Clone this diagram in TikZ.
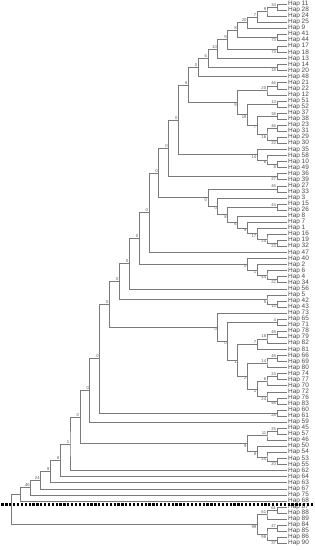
\documentclass[tikz,border=0pt]{standalone}
\usepackage{fontspec}
\setmainfont{Liberation Sans}
\usetikzlibrary{calc}

%% one clade: name, height, upper child, lower child, bootstrap, label style
\newcommand\clade[6]{%
  \coordinate (cx) at ({286.7-9.85*#2},0);
  \coordinate (cm) at ($(#3)!0.5!(#4)$);
  \coordinate (#1) at (cx |- cm);
  \draw[br] (#3) -| (#1) |- (#4);
  \node[#6] (#1l) at (#1) {#5};
}

\begin{document}
\begin{tikzpicture}[
  x=0.03cm, y=-0.03cm,
  br/.style={draw=black!52, line width=0.5pt},
  hap/.style={anchor=west, inner sep=0pt, xshift=1pt,
              font=\fontsize{5.5}{6}\selectfont, text=black!72},
  bsa/.style={anchor=south east, inner sep=0.5pt,
              font=\fontsize{3.6}{4}\selectfont, text=black!65},
  bsb/.style={bsa, anchor=north east},
  sepline/.style={line width=1.9pt, dash pattern=on 1.9pt off 1.4pt}
]
\useasboundingbox (0,0) rectangle (315,550);

%% Leaves
\foreach \h [count=\i] in {11,28,24,25,9,41,44,17,18,13,14,20,48,21,22,12,51,52,37,38,
  23,31,29,30,35,58,10,49,36,39,27,33,3,15,26,8,7,1,16,19,32,47,40,2,6,4,34,56,5,42,
  43,73,65,71,78,79,82,81,66,69,80,74,77,70,72,76,83,60,61,59,45,57,46,50,54,53,55,62,
  64,63,67,75,68,87,88,89,84,85,86,90}{
  \coordinate (h\h) at (286.7,{4+(\i-1)*6.06});
  \node[hap] (lab\h) at (h\h) {Hap \h};
}

%% Top clade
\clade{A}{1}{h11}{h28}{34}{bsa}
\clade{B}{2}{A}{h24}{8}{bsa}
\clade{C}{3}{B}{h25}{7}{bsa}
\clade{D}{4}{C}{h9}{20}{bsa}
\clade{E}{1}{h41}{h44}{73}{bsb}
\clade{F}{5}{D}{E}{8}{bsa}
\clade{G}{1}{h17}{h18}{73}{bsb}
\clade{H}{6}{F}{G}{9}{bsa}
\clade{I}{7}{H}{h13}{10}{bsa}
\clade{J}{1}{h14}{h20}{18}{bsb}
\clade{K}{8}{I}{J}{6}{bsa}
\clade{L}{9}{K}{h48}{0}{bsa}
\clade{N1a}{1}{h21}{h22}{46}{bsa}
\clade{N1}{2}{N1a}{h12}{20}{bsa}
\clade{N2a}{1}{h51}{h52}{13}{bsa}
\clade{N3a}{1}{h37}{h38}{38}{bsa}
\clade{N3b1}{1}{h23}{h31}{46}{bsa}
\clade{N3b2}{1}{h29}{h30}{22}{bsb}
\clade{N3b}{2}{N3b1}{N3b2}{16}{bsb}
\clade{N3}{3}{N3a}{N3b}{7}{bsb}
\clade{N2}{4}{N2a}{N3}{18}{bsb}
\clade{N}{5}{N1}{N2}{9}{bsb}
\clade{M}{10}{L}{N}{8}{bsa}
\clade{R}{1}{h10}{h49}{8}{bsb}
\clade{Q}{2}{h58}{R}{6}{bsb}
\clade{P}{3}{h35}{Q}{14}{bsb}
\clade{O}{11}{M}{P}{0}{bsa}
\clade{T}{1}{h36}{h39}{27}{bsb}
\clade{S}{12}{O}{T}{0}{bsa}
\clade{V1}{1}{h27}{h33}{46}{bsa}
\clade{W7}{1}{h19}{h32}{23}{bsb}
\clade{W6}{2}{h16}{W7}{25}{bsb}
\clade{W5}{3}{h1}{W6}{17}{bsb}
\clade{W4}{4}{h7}{W5}{9}{bsb}
\clade{W3}{5}{h8}{W4}{6}{bsb}
\clade{W2a}{1}{h15}{h26}{44}{bsa}
\clade{W2}{6}{W2a}{W3}{8}{bsb}
\clade{W}{7}{h3}{W2}{0}{bsb}
\clade{V}{8}{V1}{W}{0}{bsb}
\clade{U}{13}{S}{V}{0}{bsa}
\clade{X}{14}{U}{h47}{0}{bsa}
\clade{Z3}{1}{h4}{h34}{22}{bsb}
\clade{Z2}{2}{h6}{Z3}{44}{bsb}
\clade{Z1}{3}{h2}{Z2}{1}{bsb}
\clade{Z}{4}{h40}{Z1}{0}{bsb}
\clade{Y}{15}{X}{Z}{0}{bsa}
\clade{AB}{16}{Y}{h56}{0}{bsa}
\clade{AA1}{1}{h42}{h43}{14}{bsb}
\clade{AA}{2}{h5}{AA1}{5}{bsb}
\clade{AC}{17}{AB}{AA}{0}{bsa}

%% Middle clade
\clade{B65}{1}{h65}{h71}{4}{bsa}
\clade{B78}{1}{h78}{h79}{46}{bsa}
\clade{B78b}{2}{B78}{h82}{18}{bsa}
\clade{BB3}{3}{B78b}{h81}{7}{bsa}
\clade{B66}{1}{h66}{h69}{46}{bsa}
\clade{B66b}{2}{B66}{h80}{14}{bsa}
\clade{B74}{1}{h74}{h77}{24}{bsa}
\clade{B74b}{2}{B74}{h70}{6}{bsa}
\clade{B76}{1}{h76}{h83}{46}{bsb}
\clade{B72}{2}{h72}{B76}{24}{bsb}
\clade{B70}{3}{B74b}{B72}{1}{bsb}
\clade{BB4}{4}{B66b}{B70}{2}{bsb}
\clade{BB2}{5}{BB3}{BB4}{1}{bsb}
\clade{BB1}{6}{B65}{BB2}{0}{bsb}
\clade{BB}{7}{h73}{BB1}{0}{bsb}
\clade{AD}{18}{AC}{BB}{0}{bsa}
\clade{E60}{1}{h60}{h61}{28}{bsb}
\clade{AE}{19}{AD}{E60}{0}{bsa}
\clade{AF}{20}{AE}{h59}{0}{bsa}

%% Lower clade
\clade{C45}{1}{h45}{h57}{25}{bsa}
\clade{CC1}{2}{C45}{h46}{11}{bsa}
\clade{C53}{1}{h53}{h55}{20}{bsb}
\clade{C54}{2}{h54}{C53}{24}{bsb}
\clade{CC2}{3}{h50}{C54}{8}{bsb}
\clade{CC}{4}{CC1}{CC2}{9}{bsb}
\clade{AG}{21}{AF}{CC}{0}{bsa}
\clade{AH}{22}{AG}{h62}{1}{bsa}
\clade{AI}{23}{AH}{h64}{8}{bsa}
\clade{AJ}{24}{AI}{h63}{8}{bsa}
\clade{AK}{25}{AJ}{h67}{24}{bsa}
\clade{AL}{26}{AK}{h75}{46}{bsa}
\clade{AM}{27}{AL}{h68}{}{bsa}

%% Outgroup
\clade{D87}{1}{h87}{h88}{61}{bsa}
\clade{D1}{2}{D87}{h89}{61}{bsa}
\clade{D84}{1}{h84}{h85}{47}{bsa}
\clade{D86}{1}{h86}{h90}{37}{bsb}
\clade{D2}{2}{D84}{D86}{98}{bsb}
\clade{DD}{3}{D1}{D2}{99}{bsb}
\clade{root}{28}{AM}{DD}{}{bsa}

%% Separator
\coordinate (sepL) at (1.5,504.6);
\coordinate (sepR) at (315,504.6);
\draw[sepline] (sepL) -- (sepR);
\end{tikzpicture}
\end{document}
